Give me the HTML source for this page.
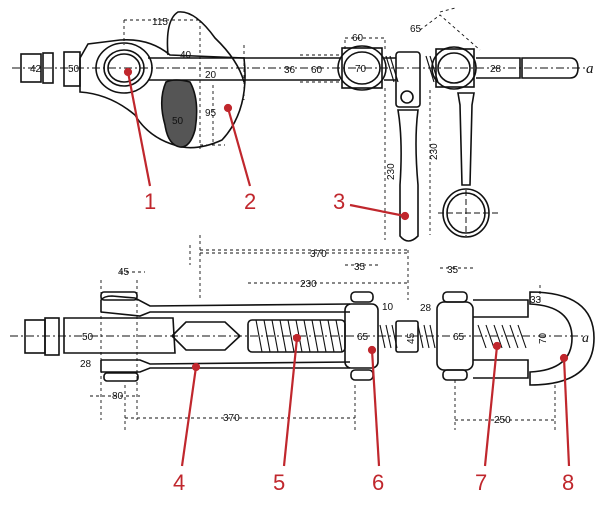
<!DOCTYPE html>
<html><head><meta charset="utf-8"><style>
html,body{margin:0;padding:0;background:#fff;}
svg{display:block;}
text{font-family:"Liberation Sans",sans-serif;}
.d{font-size:10px;fill:#111;}
.r{font-size:22px;fill:#c0272d;}
</style></head><body>
<svg width="609" height="512" viewBox="0 0 609 512" xmlns="http://www.w3.org/2000/svg">
<g fill="none" stroke="#111" stroke-width="1.6">
<!-- TOP ASSEMBLY -->
<line x1="12" y1="68" x2="585" y2="68" stroke-dasharray="8,3,2,3" stroke-width="1"/>
<rect x="21" y="54" width="20" height="28"/>
<rect x="43" y="53" width="10" height="30"/>
<rect x="64" y="52" width="16" height="34"/>
<!-- cam plate -->
<path d="M80,58 L88,44 L120,40 Q150,38 170,55 L244,58 Q250,110 222,140 Q200,150 182,147 Q150,140 135,115 Q110,94 80,92 Z"/>
<path d="M168,55 Q165,20 178,12 Q195,10 215,38 Q238,60 244,82"/>
<ellipse cx="124" cy="68" rx="28" ry="25"/>
<ellipse cx="124" cy="68" rx="20" ry="18"/>
<ellipse cx="124" cy="68" rx="16" ry="14"/>
<path d="M166,82 Q175,78 190,82 Q200,100 195,130 Q190,148 180,147 Q168,145 165,125 Q158,100 166,82 Z" fill="#555" stroke="#111"/>
<!-- bar -->
<path d="M148,58 L340,58 M148,80 L340,80"/>
<ellipse cx="362" cy="68" rx="24" ry="22"/>
<ellipse cx="362" cy="68" rx="18" ry="16"/>
<rect x="342" y="48" width="40" height="40"/>
<path d="M384,58 L396,58 M384,80 L396,80"/>
<path d="M386,56 L394,82 M390,56 L398,82 M430,56 L438,82 M426,56 L434,82" stroke-width="1.2"/>
<ellipse cx="454" cy="68" rx="22" ry="21"/>
<ellipse cx="454" cy="68" rx="16" ry="15"/>
<rect x="436" y="49" width="38" height="38"/>
<path d="M476,58 L520,58 L520,78 L476,78"/>
<path d="M522,58 L570,58 Q578,58 578,68 Q578,78 570,78 L522,78 Z"/>
<!-- handle 1 -->
<rect x="396" y="52" width="24" height="55" rx="3"/>
<circle cx="407" cy="97" r="6"/>
<path d="M398,110 Q403,140 400,185 L400,236 Q408,246 418,236 L418,185 Q414,140 418,110 Z"/>
<!-- handle 2 -->
<path d="M458,93 L474,93 L472,105 L470,185 L462,185 L460,105 Z"/>
<ellipse cx="466" cy="213" rx="23" ry="24"/>
<ellipse cx="466" cy="213" rx="19" ry="20"/>
<path d="M438,213 L500,213 M466,190 L466,236" stroke-dasharray="6,3" stroke-width="1"/>
<!-- dims top -->
<g stroke-width="0.9" stroke-dasharray="3,3">
<path d="M124,20 L124,45 M124,20 L200,20 M200,20 L200,150 M244,45 L244,100 M213,85 L213,145 M200,145 L225,145"/>
<path d="M345,40 L345,50 M385,40 L385,50 M345,38 L385,38 M385,88 L385,240 M430,90 L430,235 M420,30 L440,15 L480,50 M440,12 L455,8"/>
<path d="M300,55 L340,55 M300,82 L340,82 M190,245 L190,265 M200,250 L410,250"/>
</g>
<!-- BOTTOM ASSEMBLY -->
<line x1="10" y1="336" x2="585" y2="336" stroke-dasharray="8,3,2,3" stroke-width="1"/>
<rect x="25" y="320" width="20" height="33"/>
<rect x="45" y="318" width="14" height="37"/>
<path d="M64,318 L173,318 L175,353 L64,353 Z"/>
<path d="M172,336 L186,322 L225,322 L240,336 L225,350 L186,350 Z"/>
<path d="M101,300 Q104,296 112,296 L135,298 L150,306 L350,304 M101,312 L140,316 L150,312 L350,312 M101,300 L101,312"/>
<path d="M101,372 L140,372 L150,368 L350,368 M101,360 L140,360 L150,364 L350,362 M101,360 L101,372"/>
<rect x="101" y="292" width="36" height="8" rx="3"/>
<rect x="104" y="373" width="34" height="8" rx="3"/>
<rect x="248" y="320" width="97" height="32" rx="4"/>
<path d="M256,320 L262,352 M264,320 L270,352 M272,320 L278,352 M280,320 L286,352 M288,320 L294,352 M296,320 L302,352 M304,320 L310,352 M312,320 L318,352 M320,320 L326,352 M328,320 L334,352 M336,320 L342,352" stroke-width="1.1"/>
<rect x="345" y="304" width="33" height="64" rx="6"/>
<rect x="351" y="292" width="22" height="10" rx="4"/>
<rect x="351" y="370" width="22" height="10" rx="4"/>
<path d="M380,325 L385,348 M386,325 L391,348 M392,325 L397,348 M418,325 L423,348 M424,325 L429,348 M430,325 L435,348" stroke-width="1.1"/>
<rect x="396" y="321" width="22" height="31" rx="2"/>
<rect x="437" y="302" width="36" height="68" rx="7"/>
<rect x="443" y="292" width="24" height="10" rx="4"/>
<rect x="443" y="370" width="24" height="10" rx="4"/>
<path d="M473,300 L528,300 L528,317 L473,317 M473,360 L528,360 L528,378 L473,378"/>
<path d="M478,325 L486,348 M486,325 L494,348 M494,325 L502,348 M502,325 L510,348 M510,325 L518,348 M518,325 L526,348" stroke-width="1.1"/>
<path d="M530,292 Q594,292 594,338 Q594,385 530,385 L530,372 Q572,370 572,338 Q572,306 530,304 Z"/>
<!-- dims bottom -->
<g stroke-width="0.9" stroke-dasharray="3,3">
<path d="M200,235 L200,300 M408,250 L408,300 M200,253 L408,253 M248,283 L408,283 M345,265 L380,265 M120,272 L145,272 M101,280 L101,420 M137,280 L137,420 M90,396 L140,396 M125,385 L125,430 M125,418 L355,418 M355,385 L355,430 M440,268 L475,268 M455,380 L455,430 M455,420 L555,420 M555,385 L555,430 M540,285 L540,300"/>
</g>
</g>
<!-- dim texts -->
<g class="d">
<text x="152" y="25">115</text><text x="180" y="58">40</text><text x="205" y="78">20</text>
<text x="205" y="116">95</text><text x="172" y="124">50</text>
<text x="30" y="72">42</text><text x="68" y="72">50</text>
<text x="284" y="73">36</text><text x="311" y="73">60</text>
<text x="352" y="41">60</text><text x="355" y="72">70</text><text x="410" y="32">65</text>
<text x="490" y="72">28</text>
<text transform="translate(394,180) rotate(-90)">230</text>
<text transform="translate(437,160) rotate(-90)">230</text>
<text x="310" y="257">370</text><text x="300" y="287">230</text>
<text x="354" y="270">35</text><text x="118" y="275">45</text><text x="447" y="273">35</text>
<text x="82" y="340">50</text><text x="80" y="367">28</text>
<text x="357" y="340">65</text><text x="453" y="340">65</text>
<text transform="translate(414,344) rotate(-90)">45</text>
<text transform="translate(546,344) rotate(-90)">70</text>
<text x="112" y="399">80</text><text x="223" y="421">370</text><text x="494" y="423">250</text>
<text x="420" y="311">28</text><text x="530" y="303">33</text><text x="382" y="310">10</text>
</g>
<text x="586" y="73" style="font-family:'Liberation Serif',serif;font-size:15px;font-style:italic;fill:#111">a</text>
<text x="582" y="342" style="font-family:'Liberation Serif',serif;font-size:14px;font-style:italic;fill:#111">a</text>
<!-- red leaders -->
<g stroke="#c0272d" stroke-width="2.2" fill="#c0272d">
<line x1="128" y1="72" x2="150" y2="186"/><circle cx="128" cy="72" r="3"/>
<line x1="228" y1="108" x2="250" y2="186"/><circle cx="228" cy="108" r="3"/>
<line x1="350" y1="205" x2="405" y2="216"/><circle cx="405" cy="216" r="3"/>
<line x1="196" y1="367" x2="182" y2="466"/><circle cx="196" cy="367" r="3"/>
<line x1="297" y1="338" x2="284" y2="466"/><circle cx="297" cy="338" r="3"/>
<line x1="372" y1="350" x2="379" y2="466"/><circle cx="372" cy="350" r="3"/>
<line x1="497" y1="346" x2="485" y2="466"/><circle cx="497" cy="346" r="3"/>
<line x1="564" y1="358" x2="569" y2="466"/><circle cx="564" cy="358" r="3"/>
</g>
<g class="r">
<text x="144" y="209">1</text><text x="244" y="209">2</text><text x="333" y="209">3</text>
<text x="173" y="490">4</text><text x="273" y="490">5</text><text x="372" y="490">6</text>
<text x="475" y="490">7</text><text x="562" y="490">8</text>
</g>
</svg>
</body></html>
